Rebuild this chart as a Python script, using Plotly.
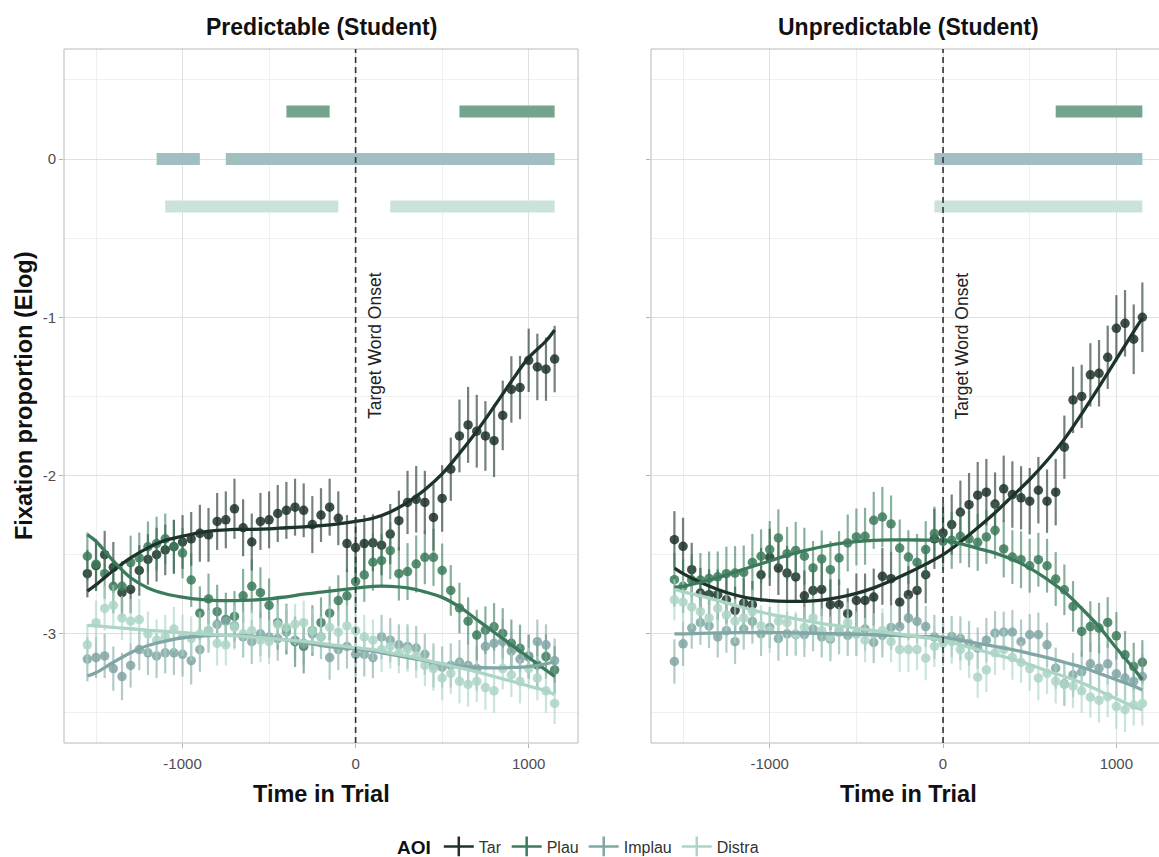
import plotly.graph_objects as go

# ---------------------------------------------------------------- data
aoi_names = ["Tar", "Plau", "Implau", "Distra"]
time_ms = list(range(-1550, 1151, 50))          # 50 ms bins
fit_ms = [-1550, -1500, -1400, -1300, -1200, -1100, -1000, -900, -800, -700,
          -600, -500, -400, -300, -200, -100, 0, 100, 200, 300, 400, 500,
          600, 700, 800, 900, 1000, 1100, 1150]

# Predictable (Student): binned means (Elog)
tar_pred = [-2.62, -2.57, -2.50, -2.58, -2.74, -2.72, -2.60, -2.53, -2.50, -2.47, -2.45,
            -2.42, -2.40, -2.365, -2.375, -2.29, -2.28, -2.21, -2.33, -2.42, -2.29, -2.28,
            -2.24, -2.22, -2.20, -2.22, -2.31, -2.25, -2.20, -2.27, -2.43, -2.455,
            -2.43, -2.425, -2.44, -2.37, -2.285, -2.17, -2.15, -2.17, -2.265, -2.145, -1.96,
            -1.75, -1.68, -1.72, -1.75, -1.78, -1.62, -1.456, -1.444, -1.272, -1.314, -1.328, -1.264]
plau_pred = [-2.51, -2.56, -2.62, -2.70, -2.70, -2.55, -2.52, -2.45, -2.43, -2.40, -2.45,
             -2.49, -2.66, -2.87, -2.78, -2.86, -2.91, -2.89, -2.76, -2.70, -2.74, -2.82,
             -2.93, -2.97, -3.05, -3.08, -2.98, -2.93, -2.87, -2.79, -2.76, -2.67,
             -2.628, -2.548, -2.538, -2.475, -2.62, -2.607, -2.559, -2.517, -2.517, -2.60, -2.726,
             -2.837, -2.92, -3.008, -2.977, -2.956, -2.998, -3.06, -3.092, -3.144, -3.197, -3.144, -3.228]
implau_pred = [-3.16, -3.15, -3.14, -3.22, -3.27, -3.20, -3.10, -3.12, -3.14, -3.12, -3.12,
               -3.13, -3.17, -3.10, -2.98, -2.94, -2.92, -2.95, -3.02, -3.05, -3.00, -3.02,
               -3.03, -2.99, -3.04, -3.06, -3.00, -3.02, -3.15, -3.10, -3.08, -3.13,
               -3.13, -3.15, -3.02, -3.04, -3.07, -3.08, -3.09, -3.13, -3.20, -3.21, -3.20,
               -3.18, -3.20, -3.22, -3.08, -3.06, -3.05, -3.11, -3.16, -3.14, -3.05, -3.07, -3.17]
distra_pred = [-3.07, -2.93, -2.84, -2.82, -2.90, -2.92, -2.91, -3.00, -3.04, -3.02, -2.97,
               -3.01, -3.03, -3.00, -2.98, -3.06, -3.07, -2.96, -3.00, -2.98, -3.04, -3.05,
               -2.94, -2.96, -2.94, -2.93, -2.98, -3.02, -2.96, -2.99, -2.95, -2.98,
               -3.02, -3.04, -3.10, -3.08, -3.12, -3.10, -3.14, -3.20, -3.22, -3.28, -3.25,
               -3.30, -3.32, -3.30, -3.34, -3.36, -3.22, -3.26, -3.30, -3.22, -3.28, -3.36, -3.44]

tar_pred_se = [0.15, 0.16, 0.15, 0.16, 0.15, 0.15, 0.16, 0.16, 0.17, 0.16, 0.17, 0.17, 0.17,
               0.18, 0.17, 0.18, 0.18, 0.19, 0.18, 0.18, 0.18, 0.18, 0.18, 0.18, 0.18, 0.17,
               0.18, 0.17, 0.18, 0.17, 0.18, 0.19, 0.18, 0.18, 0.19, 0.19, 0.19, 0.20, 0.21,
               0.20, 0.21, 0.21, 0.20, 0.23, 0.24, 0.23, 0.22, 0.23, 0.22, 0.21, 0.20, 0.20,
               0.21, 0.20, 0.21]
plau_pred_se = [0.15, 0.16, 0.16, 0.17, 0.16, 0.17, 0.16, 0.16, 0.17, 0.16, 0.17, 0.16, 0.17,
                0.17, 0.16, 0.17, 0.17, 0.16, 0.17, 0.17, 0.16, 0.17, 0.17, 0.16, 0.16, 0.17,
                0.16, 0.16, 0.17, 0.16, 0.17, 0.18, 0.17, 0.18, 0.17, 0.18, 0.17, 0.18, 0.18,
                0.17, 0.18, 0.17, 0.16, 0.16, 0.15, 0.16, 0.15, 0.15, 0.16, 0.15, 0.15, 0.14,
                0.15, 0.14, 0.15]
implau_pred_se = [0.14, 0.13, 0.14, 0.14, 0.15, 0.14, 0.13, 0.14, 0.14, 0.13, 0.14, 0.14, 0.15,
                  0.14, 0.14, 0.13, 0.14, 0.14, 0.13, 0.14, 0.14, 0.13, 0.14, 0.14, 0.13, 0.14,
                  0.13, 0.14, 0.14, 0.13, 0.14, 0.14, 0.14, 0.13, 0.14, 0.14, 0.13, 0.14, 0.14,
                  0.13, 0.14, 0.13, 0.14, 0.14, 0.13, 0.14, 0.14, 0.13, 0.14, 0.13, 0.14, 0.13,
                  0.14, 0.13, 0.14]
distra_pred_se = [0.13, 0.14, 0.14, 0.13, 0.14, 0.14, 0.13, 0.14, 0.13, 0.14, 0.14, 0.13, 0.14,
                  0.14, 0.13, 0.14, 0.13, 0.14, 0.14, 0.13, 0.14, 0.14, 0.13, 0.14, 0.13, 0.14,
                  0.14, 0.13, 0.14, 0.14, 0.13, 0.14, 0.14, 0.13, 0.14, 0.14, 0.13, 0.14, 0.14,
                  0.13, 0.14, 0.14, 0.13, 0.14, 0.14, 0.13, 0.14, 0.14, 0.13, 0.14, 0.14, 0.13,
                  0.14, 0.14, 0.13]

# Predictable (Student): model fits
tar_pred_fit = [-2.73, -2.69, -2.60, -2.52, -2.457, -2.41, -2.383, -2.36, -2.347, -2.34,
                -2.34, -2.337, -2.33, -2.324, -2.316, -2.305, -2.29, -2.27, -2.23, -2.17,
                -2.09, -1.99, -1.86, -1.72, -1.565, -1.405, -1.255, -1.15, -1.08]
plau_pred_fit = [-2.373, -2.415, -2.54, -2.646, -2.71, -2.747, -2.768, -2.783, -2.79, -2.79,
                 -2.787, -2.78, -2.766, -2.75, -2.737, -2.724, -2.711, -2.70, -2.70, -2.71,
                 -2.735, -2.77, -2.83, -2.91, -2.99, -3.07, -3.15, -3.23, -3.27]
implau_pred_fit = [-3.267, -3.246, -3.18, -3.12, -3.074, -3.046, -3.025, -3.015, -3.01, -3.01,
                   -3.015, -3.025, -3.04, -3.057, -3.074, -3.088, -3.095, -3.11, -3.13, -3.15,
                   -3.17, -3.19, -3.205, -3.213, -3.215, -3.213, -3.207, -3.19, -3.175]
distra_pred_fit = [-2.947, -2.95, -2.96, -2.968, -2.978, -2.985, -2.993, -3.0, -3.007, -3.012,
                   -3.02, -3.028, -3.038, -3.048, -3.06, -3.075, -3.088, -3.10, -3.12, -3.14,
                   -3.165, -3.19, -3.215, -3.24, -3.27, -3.30, -3.33, -3.36, -3.385]

# Unpredictable (Student): binned means (Elog)
tar_unpred = [-2.405, -2.447, -2.595, -2.743, -2.753, -2.753, -2.785, -2.852, -2.806, -2.816,
              -2.627, -2.517, -2.585, -2.616, -2.641, -2.76, -2.726, -2.72, -2.816, -2.816,
              -2.873, -2.789, -2.789, -2.768, -2.637, -2.652, -2.80, -2.753, -2.726, -2.627,
              -2.40, -2.363,
              -2.31, -2.232, -2.184, -2.124, -2.105, -2.18, -2.084, -2.12, -2.141, -2.162,
              -2.093, -2.162, -2.105, -1.821, -1.522, -1.50, -1.364, -1.354, -1.253, -1.07,
              -1.038, -1.139, -1.00]
plau_unpred = [-2.658, -2.70, -2.66, -2.66, -2.65, -2.64, -2.62, -2.616, -2.612, -2.549,
               -2.51, -2.468, -2.394, -2.494, -2.473, -2.51, -2.584, -2.527, -2.595, -2.521,
               -2.426, -2.388, -2.384, -2.283, -2.262, -2.306, -2.458, -2.515, -2.549, -2.468,
               -2.367, -2.416,
               -2.409, -2.384, -2.40, -2.422, -2.388, -2.346, -2.464, -2.515, -2.532, -2.57,
               -2.532, -2.57, -2.654, -2.722, -2.827, -2.985, -2.954, -2.964, -2.928, -3.013,
               -3.133, -3.207, -3.18]
implau_unpred = [-3.175, -3.063, -2.964, -2.93, -2.95, -3.02, -2.98, -3.05, -2.97, -2.922,
                 -3.00, -2.96, -3.03, -3.00, -3.006, -3.006, -2.97, -3.02, -3.034, -2.99,
                 -3.01, -3.00, -2.97, -3.055, -3.01, -2.96, -2.954, -2.90, -2.922, -2.954,
                 -3.02, -3.04,
                 -3.017, -3.03, -3.06, -3.09, -3.04, -2.996, -2.99, -2.99, -3.05, -3.006,
                 -3.006, -3.07, -3.217, -3.316, -3.26, -3.24, -3.19, -3.217, -3.19, -3.253,
                 -3.28, -3.30, -3.27]
distra_unpred = [-2.785, -2.80, -2.83, -2.86, -2.90, -2.84, -2.88, -2.92, -2.90, -2.86,
                 -2.95, -2.98, -2.92, -2.93, -3.00, -2.96, -2.90, -2.98, -3.02, -2.97,
                 -2.93, -3.00, -3.04, -3.00, -2.98, -3.05, -3.10, -3.10, -3.10, -3.154,
                 -3.08, -3.06,
                 -3.05, -3.10, -3.14, -3.274, -3.228, -3.12, -3.10, -3.15, -3.18, -3.22,
                 -3.28, -3.25, -3.30, -3.32, -3.33, -3.36, -3.40, -3.42, -3.397, -3.46,
                 -3.48, -3.45, -3.44]

tar_unpred_se = [0.18, 0.18, 0.17, 0.16, 0.16, 0.16, 0.15, 0.15, 0.16, 0.15, 0.17, 0.18, 0.17,
                 0.17, 0.16, 0.16, 0.17, 0.17, 0.16, 0.16, 0.16, 0.17, 0.17, 0.18, 0.18, 0.17,
                 0.17, 0.18, 0.17, 0.18, 0.19, 0.19, 0.19, 0.20, 0.20, 0.21, 0.21, 0.20, 0.21,
                 0.21, 0.20, 0.21, 0.21, 0.20, 0.21, 0.20, 0.21, 0.20, 0.20, 0.21, 0.20, 0.21,
                 0.21, 0.22, 0.22]
plau_unpred_se = [0.17, 0.17, 0.16, 0.17, 0.17, 0.16, 0.17, 0.17, 0.17, 0.18, 0.17, 0.18, 0.18,
                  0.17, 0.18, 0.18, 0.17, 0.18, 0.18, 0.17, 0.18, 0.18, 0.18, 0.18, 0.19, 0.18,
                  0.18, 0.17, 0.18, 0.18, 0.17, 0.18, 0.18, 0.17, 0.18, 0.18, 0.17, 0.18, 0.18,
                  0.17, 0.18, 0.17, 0.17, 0.17, 0.17, 0.16, 0.16, 0.16, 0.16, 0.16, 0.16, 0.15,
                  0.15, 0.15, 0.14]
implau_unpred_se = [0.14, 0.14, 0.13, 0.14, 0.14, 0.13, 0.14, 0.14, 0.13, 0.14, 0.14, 0.13, 0.14,
                    0.14, 0.13, 0.14, 0.14, 0.13, 0.14, 0.14, 0.13, 0.14, 0.14, 0.13, 0.14, 0.14,
                    0.13, 0.14, 0.14, 0.13, 0.14, 0.14, 0.13, 0.14, 0.14, 0.13, 0.14, 0.14, 0.13,
                    0.14, 0.14, 0.13, 0.14, 0.14, 0.13, 0.14, 0.14, 0.13, 0.14, 0.14, 0.13, 0.14,
                    0.14, 0.13, 0.14]
distra_unpred_se = [0.13, 0.14, 0.14, 0.13, 0.14, 0.13, 0.14, 0.14, 0.13, 0.14, 0.13, 0.14, 0.14,
                    0.13, 0.14, 0.13, 0.14, 0.14, 0.13, 0.14, 0.13, 0.14, 0.14, 0.13, 0.14, 0.13,
                    0.14, 0.14, 0.13, 0.14, 0.13, 0.14, 0.14, 0.13, 0.14, 0.13, 0.14, 0.14, 0.13,
                    0.14, 0.13, 0.14, 0.14, 0.13, 0.14, 0.13, 0.14, 0.14, 0.13, 0.14, 0.13, 0.14,
                    0.14, 0.13, 0.14]

# Unpredictable (Student): model fits
tar_unpred_fit = [-2.585, -2.62, -2.675, -2.72, -2.755, -2.778, -2.79, -2.795, -2.795, -2.787,
                  -2.77, -2.745, -2.71, -2.665, -2.615, -2.56, -2.50, -2.42, -2.33, -2.235,
                  -2.13, -2.025, -1.905, -1.77, -1.61, -1.44, -1.265, -1.09, -1.005]
plau_unpred_fit = [-2.705, -2.70, -2.675, -2.645, -2.61, -2.575, -2.54, -2.505, -2.475, -2.45,
                   -2.43, -2.418, -2.41, -2.407, -2.407, -2.408, -2.41, -2.43, -2.46, -2.49,
                   -2.53, -2.585, -2.655, -2.735, -2.84, -2.955, -3.09, -3.22, -3.29]
implau_unpred_fit = [-3.0, -3.0, -2.997, -2.995, -2.993, -2.992, -2.992, -2.993, -2.995, -2.998,
                     -3.0, -3.003, -3.006, -3.01, -3.014, -3.018, -3.022, -3.04, -3.06, -3.08,
                     -3.10, -3.125, -3.15, -3.18, -3.21, -3.25, -3.29, -3.33, -3.355]
distra_unpred_fit = [-2.72, -2.735, -2.76, -2.79, -2.82, -2.85, -2.875, -2.895, -2.915, -2.935,
                     -2.95, -2.965, -2.98, -2.995, -3.01, -3.025, -3.04, -3.07, -3.10, -3.13,
                     -3.16, -3.195, -3.235, -3.27, -3.31, -3.36, -3.41, -3.46, -3.48]

# Significant clusters (vs. target), per competitor AOI
sig_pred_aoi = ["Plau", "Plau", "Implau", "Implau", "Distra", "Distra"]
sig_pred_start = [-400, 600, -1150, -750, -1100, 200]
sig_pred_end = [-150, 1150, -900, 1150, -100, 1150]
sig_unpred_aoi = ["Plau", "Implau", "Distra"]
sig_unpred_start = [650, -50, -50]
sig_unpred_end = [1150, 1150, 1150]

# ---------------------------------------------------------------- style
W, H = 1159, 857
FONT = "Liberation Sans, Arial, Helvetica, sans-serif"
colors = {"Tar": "#1d3329", "Plau": "#3b7b5b", "Implau": "#80a6a5", "Distra": "#acd5c6"}
err_rgba = {"Tar": "rgba(29,51,41,0.62)", "Plau": "rgba(59,123,91,0.60)",
            "Implau": "rgba(128,166,165,0.60)", "Distra": "rgba(172,213,198,0.65)"}
bar_colors = {"Plau": "#74a48c", "Implau": "#a1bfc0", "Distra": "#c9e3da"}
bar_level = {"Plau": 0.3, "Implau": 0.0, "Distra": -0.3}

# panel geometry in pixels
top_px, bottom_px = 49, 743
left_panel = (64, 578)
right_panel = (651, 1159)
x_range_left = [-1685, 1285]
x_range_right = [-1685, 1246]
y_range = [-3.69, 0.695]

panels = [
    dict(xa="x", ya="y",
         means={"Tar": tar_pred, "Plau": plau_pred, "Implau": implau_pred, "Distra": distra_pred},
         ses={"Tar": tar_pred_se, "Plau": plau_pred_se, "Implau": implau_pred_se, "Distra": distra_pred_se},
         fits={"Tar": tar_pred_fit, "Plau": plau_pred_fit, "Implau": implau_pred_fit, "Distra": distra_pred_fit},
         sig=(sig_pred_aoi, sig_pred_start, sig_pred_end)),
    dict(xa="x2", ya="y2",
         means={"Tar": tar_unpred, "Plau": plau_unpred, "Implau": implau_unpred, "Distra": distra_unpred},
         ses={"Tar": tar_unpred_se, "Plau": plau_unpred_se, "Implau": implau_unpred_se, "Distra": distra_unpred_se},
         fits={"Tar": tar_unpred_fit, "Plau": plau_unpred_fit, "Implau": implau_unpred_fit, "Distra": distra_unpred_fit},
         sig=(sig_unpred_aoi, sig_unpred_start, sig_unpred_end)),
]

fig = go.Figure()

for p in panels:
    # significance bars
    aois, starts, ends = p["sig"]
    for a, s, e in zip(aois, starts, ends):
        fig.add_trace(go.Scatter(
            x=[s, e], y=[bar_level[a], bar_level[a]], mode="lines",
            line=dict(color=bar_colors[a], width=12), xaxis=p["xa"], yaxis=p["ya"],
            showlegend=False, hoverinfo="skip"))
    # binned means with error bars
    for a in aoi_names:
        fig.add_trace(go.Scatter(
            x=time_ms, y=p["means"][a], mode="markers",
            marker=dict(color=colors[a], size=9.5, opacity=0.85, line=dict(width=0)),
            error_y=dict(type="data", array=p["ses"][a], visible=True,
                         thickness=2.2, width=0, color=err_rgba[a]),
            xaxis=p["xa"], yaxis=p["ya"], showlegend=False, hoverinfo="skip"))
    # model fits
    for a in aoi_names:
        fig.add_trace(go.Scatter(
            x=fit_ms, y=p["fits"][a], mode="lines",
            line=dict(color=colors[a], width=3.3, shape="spline", smoothing=1.0),
            xaxis=p["xa"], yaxis=p["ya"], showlegend=False, hoverinfo="skip"))

# legend keys (errorbar-style cross)
for a in aoi_names:
    fig.add_trace(go.Scatter(
        x=[None], y=[None], mode="lines+markers", name=a,
        line=dict(color=colors[a], width=2.5),
        marker=dict(symbol="line-ns", size=14, color=colors[a],
                    line=dict(color=colors[a], width=2.5)),
        xaxis="x", yaxis="y", showlegend=True))

ydom = [1 - bottom_px / H, 1 - top_px / H]
grid_major = "#e0e0e0"
grid_minor = "#efefef"
tick_col = "#b3b3b3"

def xaxis_cfg(px, rng):
    return dict(domain=[px[0] / W, px[1] / W], range=rng, anchor="y" if px == left_panel else "y2",
                tickvals=[-1000, 0, 1000], ticktext=["-1000", "0", "1000"],
                ticks="outside", ticklen=4, tickcolor=tick_col, tickwidth=1,
                tickfont=dict(family=FONT, size=15, color="#4d4d4d"),
                showgrid=True, gridcolor=grid_major, gridwidth=1, zeroline=False,
                showline=False, ticklabelstandoff=3,
                minor=dict(tickvals=[-1500, -500, 500], showgrid=True,
                           gridcolor=grid_minor, gridwidth=1, ticks=""))

def yaxis_cfg(xanchor, labels):
    return dict(domain=ydom, range=y_range, anchor=xanchor,
                tickvals=[0, -1, -2, -3], ticktext=["0", "-1", "-2", "-3"],
                showticklabels=labels,
                ticks="outside", ticklen=4, tickcolor=tick_col, tickwidth=1,
                tickfont=dict(family=FONT, size=15, color="#4d4d4d"),
                showgrid=True, gridcolor=grid_major, gridwidth=1, zeroline=False,
                showline=False,
                minor=dict(tickvals=[0.5, -0.5, -1.5, -2.5, -3.5], showgrid=True,
                           gridcolor=grid_minor, gridwidth=1, ticks=""))

border = "#b8b8b8"
shapes = []
# panel borders (right panel runs past the canvas edge)
for (x0, x1), sides in [(left_panel, "tblr"), (right_panel, "tbl")]:
    X0, X1 = x0 / W, x1 / W
    Y0, Y1 = ydom
    if "t" in sides:
        shapes.append(dict(type="line", xref="paper", yref="paper", x0=X0, x1=X1, y0=Y1, y1=Y1,
                           line=dict(color=border, width=1)))
    if "b" in sides:
        shapes.append(dict(type="line", xref="paper", yref="paper", x0=X0, x1=X1, y0=Y0, y1=Y0,
                           line=dict(color=border, width=1)))
    if "l" in sides:
        shapes.append(dict(type="line", xref="paper", yref="paper", x0=X0, x1=X0, y0=Y0, y1=Y1,
                           line=dict(color=border, width=1)))
    if "r" in sides:
        shapes.append(dict(type="line", xref="paper", yref="paper", x0=X1, x1=X1, y0=Y0, y1=Y1,
                           line=dict(color=border, width=1)))
# word-onset marker
for xr, yr in [("x", "y domain"), ("x2", "y2 domain")]:
    shapes.append(dict(type="line", xref=xr, yref=yr, x0=0, x1=0, y0=0, y1=1,
                       line=dict(color="#333333", width=1.6, dash="6px,4px")))

cx_left = (left_panel[0] + left_panel[1]) / 2 / W
cx_right = (651 + 1166) / 2 / W
annotations = [
    dict(text="<b>Predictable (Student)</b>", x=cx_left, y=1 - 27 / H, xref="paper", yref="paper",
         showarrow=False, font=dict(family=FONT, size=23, color="#111111"), xanchor="center", yanchor="middle"),
    dict(text="<b>Unpredictable (Student)</b>", x=cx_right, y=1 - 27 / H, xref="paper", yref="paper",
         showarrow=False, font=dict(family=FONT, size=23, color="#111111"), xanchor="center", yanchor="middle"),
    dict(text="<b>Time in Trial</b>", x=cx_left, y=1 - 794 / H, xref="paper", yref="paper",
         showarrow=False, font=dict(family=FONT, size=23.5, color="#111111"), xanchor="center", yanchor="middle"),
    dict(text="<b>Time in Trial</b>", x=cx_right, y=1 - 794 / H, xref="paper", yref="paper",
         showarrow=False, font=dict(family=FONT, size=23.5, color="#111111"), xanchor="center", yanchor="middle"),
    dict(text="<b>Fixation proportion (Elog)</b>", x=24 / W, y=(ydom[0] + ydom[1]) / 2,
         xref="paper", yref="paper", textangle=-90, showarrow=False,
         font=dict(family=FONT, size=23.5, color="#111111"), xanchor="center", yanchor="middle"),
    dict(text="Target Word Onset", x=108, y=-1.18, xref="x", yref="y", textangle=-90,
         showarrow=False, font=dict(family=FONT, size=17.5, color="#222222"),
         xanchor="center", yanchor="middle"),
    dict(text="Target Word Onset", x=108, y=-1.18, xref="x2", yref="y2", textangle=-90,
         showarrow=False, font=dict(family=FONT, size=17.5, color="#222222"),
         xanchor="center", yanchor="middle"),
]

fig.update_layout(
    width=W, height=H, autosize=False,
    margin=dict(l=0, r=0, t=0, b=0, pad=0, autoexpand=False),
    paper_bgcolor="white", plot_bgcolor="white",
    font=dict(family=FONT, color="#222222"),
    xaxis=xaxis_cfg(left_panel, x_range_left),
    xaxis2=xaxis_cfg(right_panel, x_range_right),
    yaxis=yaxis_cfg("x", True),
    yaxis2=yaxis_cfg("x2", False),
    shapes=shapes,
    annotations=annotations,
    showlegend=True,
    legend=dict(orientation="h", x=0.5, xanchor="center", y=1 - 847 / H, yanchor="middle",
                title=dict(text="<b>AOI</b>", font=dict(family=FONT, size=19, color="#111111")),
                font=dict(family=FONT, size=16, color="#333333"),
                itemwidth=30, bgcolor="rgba(0,0,0,0)", tracegroupgap=0),
)

fig.write_html("out.html")
